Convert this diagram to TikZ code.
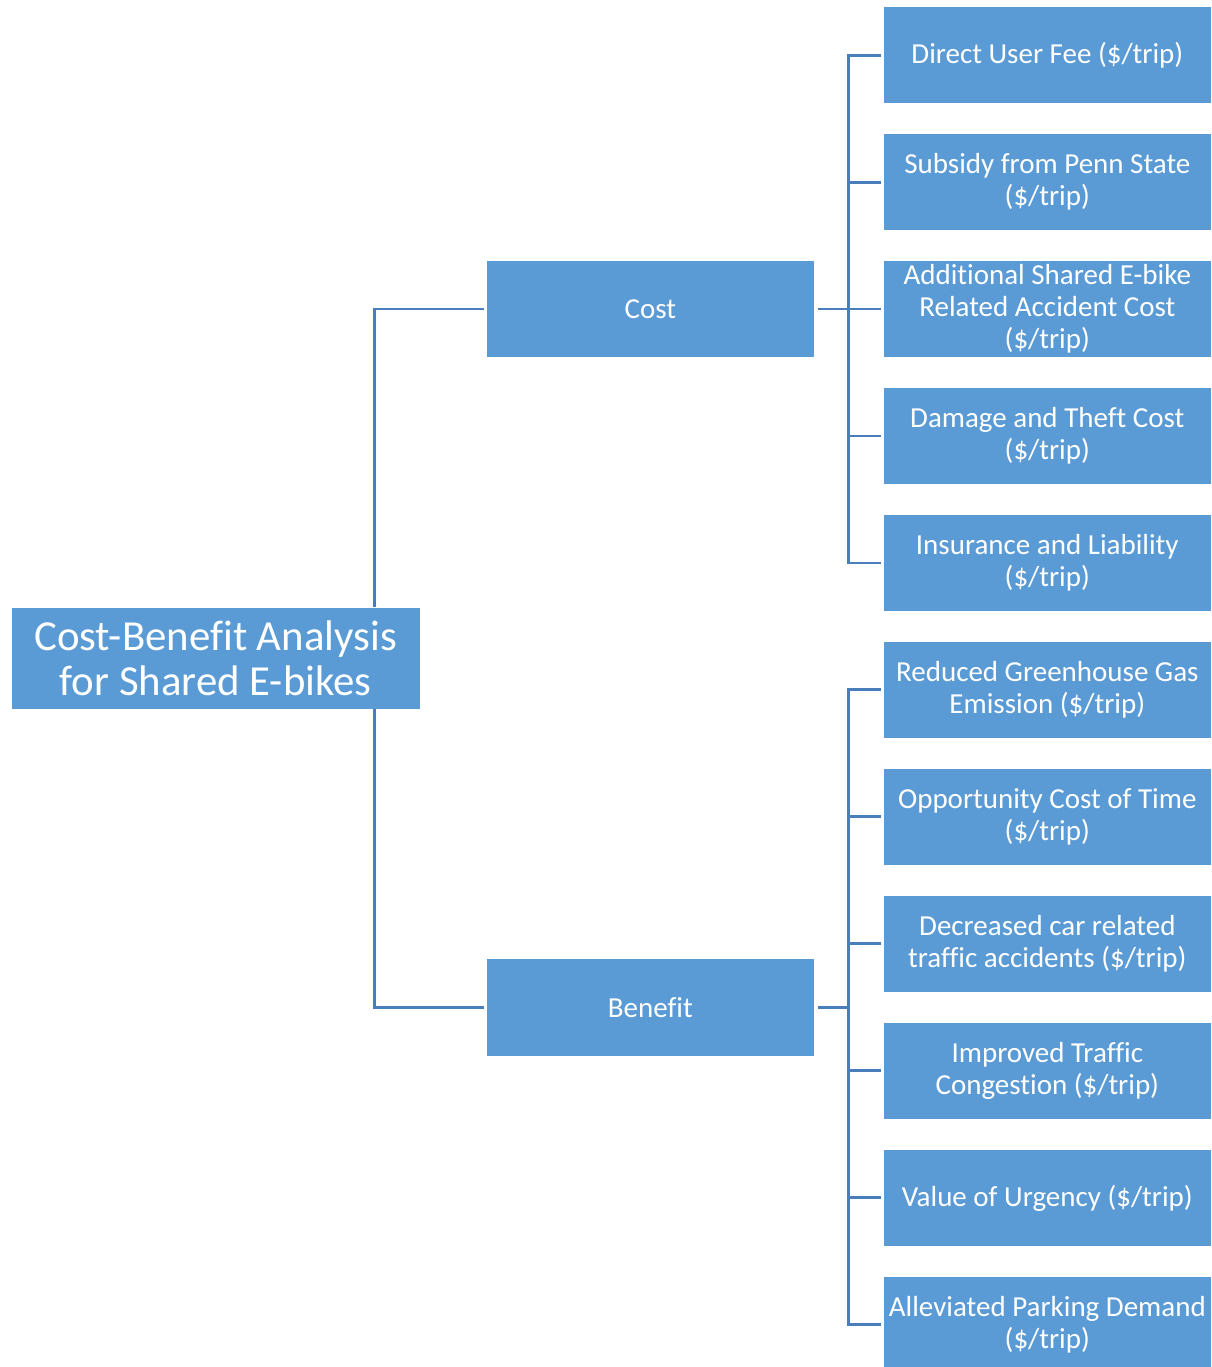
\documentclass[tikz,border=0pt]{standalone}
\usepackage{fontspec}
\setmainfont{Carlito}[Ligatures=NoCommon]
\usepackage{tikz}
\usetikzlibrary{positioning, calc}
\usepackage{xcolor}
\definecolor{boxblue}{HTML}{5B9BD5}
\definecolor{lineblue}{HTML}{4A7EBB}
\tikzset{
  leaf/.style={rectangle, minimum width=6.58cm, minimum height=1.96cm, inner sep=1pt, align=center, draw=white, line width=0.4pt, fill=boxblue, text=white, font=\fontsize{16.6}{18.2}\selectfont},
  branch/.style={leaf, minimum width=6.6cm},
  rootbox/.style={leaf, minimum width=8.22cm, minimum height=2.04cm, font=\fontsize{24.5}{26.2}\selectfont},
  link/.style={line width=1.7pt, color=lineblue}
}
\begin{document}
\begin{tikzpicture}[node distance=0.58cm and 1.38cm]
    % Leaves: cost side
    \node[leaf] (fee) {Direct User Fee (\$/trip)};
    \node[leaf, below=of fee] (subsidy) {Subsidy from Penn State\\(\$/trip)};
    \node[leaf, below=of subsidy] (accident) {Additional Shared E-bike\\Related Accident Cost\\(\$/trip)};
    \node[leaf, below=of accident] (theft) {Damage and Theft Cost\\(\$/trip)};
    \node[leaf, below=of theft] (insurance) {Insurance and Liability\\(\$/trip)};
    % Leaves: benefit side
    \node[leaf, below=of insurance] (emission) {Reduced Greenhouse Gas\\Emission (\$/trip)};
    \node[leaf, below=of emission] (opportunity) {Opportunity Cost of Time\\(\$/trip)};
    \node[leaf, below=of opportunity] (carcrash) {Decreased car related\\traffic accidents (\$/trip)};
    \node[leaf, below=of carcrash] (congestion) {Improved Traffic\\Congestion (\$/trip)};
    \node[leaf, below=of congestion] (urgency) {Value of Urgency (\$/trip)};
    \node[leaf, below=of urgency] (parking) {Alleviated Parking Demand\\(\$/trip)};

    % Branches and root
    \node[branch, left=of accident] (cost) {Cost};
    \coordinate (bmid) at ($(carcrash.west)!0.5!(congestion.west)$);
    \node[branch, left=of bmid] (benefit) {Benefit};
    \coordinate (rmid) at ($(cost.west)!0.5!(benefit.west)$);
    \node[rootbox, left=1.32cm of rmid] (root) {Cost-Benefit Analysis\\for Shared E-bikes};

    % Connectors
    \draw[link] ([xshift=3.19cm]root.north) |- ([xshift=-0.04cm]cost.west);
    \draw[link] ([xshift=3.19cm]root.south) |- ([xshift=-0.04cm]benefit.west);

    \draw[link] ([xshift=0.06cm]cost.east) -- ++(0.62,0) |- ([xshift=-0.04cm]fee.west);
    \draw[link] ([xshift=0.06cm]cost.east) -- ++(0.62,0) |- ([xshift=-0.04cm]subsidy.west);
    \draw[link] ([xshift=0.06cm]cost.east) -- ++(0.62,0) |- ([xshift=-0.04cm]accident.west);
    \draw[link] ([xshift=0.06cm]cost.east) -- ++(0.62,0) |- ([xshift=-0.04cm]theft.west);
    \draw[link] ([xshift=0.06cm]cost.east) -- ++(0.62,0) |- ([xshift=-0.04cm]insurance.west);

    \draw[link] ([xshift=0.06cm]benefit.east) -- ++(0.62,0) |- ([xshift=-0.04cm]emission.west);
    \draw[link] ([xshift=0.06cm]benefit.east) -- ++(0.62,0) |- ([xshift=-0.04cm]opportunity.west);
    \draw[link] ([xshift=0.06cm]benefit.east) -- ++(0.62,0) |- ([xshift=-0.04cm]carcrash.west);
    \draw[link] ([xshift=0.06cm]benefit.east) -- ++(0.62,0) |- ([xshift=-0.04cm]congestion.west);
    \draw[link] ([xshift=0.06cm]benefit.east) -- ++(0.62,0) |- ([xshift=-0.04cm]urgency.west);
    \draw[link] ([xshift=0.06cm]benefit.east) -- ++(0.62,0) |- ([xshift=-0.04cm]parking.west);

    % Page margins
    \pgfresetboundingbox
    \useasboundingbox ($(root.west|-fee.north)+(-0.22,0.12)$) rectangle ($(fee.east|-parking.south)+(0,0.14)$);
\end{tikzpicture}
\end{document}
